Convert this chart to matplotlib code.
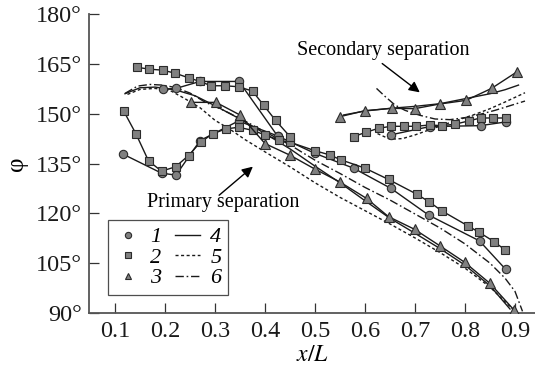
import matplotlib
matplotlib.use("Agg")
import matplotlib.pyplot as plt
from matplotlib.lines import Line2D

# experiment 1 (circles)
s1_x = [0.115, 0.193, 0.222, 0.270, 0.347, 0.425, 0.499, 0.577, 0.652, 0.727, 0.829, 0.881]
s1_y = [137.9, 132.1, 131.5, 141.9, 147.8, 143.3, 138.1, 133.6, 127.5, 119.5, 111.7, 103.2]
s1_up_x = [0.195, 0.222, 0.270, 0.348, 0.425]
s1_up_y = [157.3, 157.6, 159.7, 159.7, 143.3]
s1_sec_x = [0.651, 0.729, 0.831, 0.881]
s1_sec_y = [143.6, 146.1, 146.4, 147.5]

# experiment 2 (squares)
s2_x = [0.117, 0.142, 0.167, 0.193, 0.221, 0.247, 0.271, 0.295, 0.321, 0.347, 0.375,
        0.400, 0.427, 0.450, 0.499, 0.529, 0.552, 0.600, 0.647, 0.703, 0.728, 0.753,
        0.805, 0.827, 0.858, 0.880]
s2_y = [150.9, 143.9, 135.8, 132.7, 134.0, 137.4, 141.4, 143.9, 145.4, 145.9, 145.0,
        143.6, 142.1, 141.4, 138.9, 137.6, 136.1, 133.6, 130.2, 125.8, 123.5, 120.8,
        116.3, 114.4, 111.5, 109.0]
s2_up_x = [0.143, 0.168, 0.195, 0.220, 0.247, 0.270, 0.292, 0.320, 0.347, 0.375, 0.397, 0.421, 0.450]
s2_up_y = [164.0, 163.4, 163.1, 162.2, 160.8, 159.7, 158.4, 158.4, 158.1, 156.8, 152.6, 148.0, 143.1]
s2_sec_x = [0.577, 0.602, 0.627, 0.652, 0.677, 0.702, 0.729, 0.753, 0.779, 0.807, 0.831, 0.855, 0.881]
s2_sec_y = [143.1, 144.4, 145.6, 146.2, 146.2, 146.2, 146.6, 146.4, 146.8, 147.8, 148.7, 148.7, 148.7]

# experiment 3 (triangles)
s3_x = [0.251, 0.302, 0.350, 0.400, 0.450, 0.500, 0.549, 0.603, 0.647, 0.699, 0.750, 0.799, 0.850, 0.898]
s3_y = [153.4, 153.4, 149.6, 141.0, 137.5, 133.3, 129.5, 124.5, 119.0, 115.2, 110.2, 105.3, 98.9, 90.9]
s3_sec_x = [0.550, 0.600, 0.653, 0.699, 0.749, 0.802, 0.853, 0.903]
s3_sec_y = [149.1, 150.9, 151.6, 151.5, 152.9, 154.0, 157.6, 162.5]

# calculation 4 (solid)
l4_x = [0.12, 0.15, 0.18, 0.22, 0.26, 0.30, 0.35, 0.40, 0.45, 0.50, 0.55, 0.60,
        0.65, 0.70, 0.75, 0.80, 0.85, 0.89]
l4_y = [156.0, 157.8, 158.0, 157.2, 155.4, 152.4, 148.4, 144.0, 139.4, 134.2, 129.2, 123.8,
        118.5, 114.0, 109.4, 104.4, 98.2, 91.2]
l4_sec_x = [0.557, 0.60, 0.65, 0.70, 0.75, 0.80, 0.85, 0.88, 0.907]
l4_sec_y = [149.6, 150.8, 151.6, 152.2, 153.0, 154.5, 156.0, 157.2, 158.6]

# calculation 5 (dotted)
l5_x = [0.125, 0.15, 0.18, 0.21, 0.24, 0.27, 0.30, 0.33, 0.36, 0.40, 0.45, 0.50,
        0.55, 0.60, 0.65, 0.70, 0.75, 0.80, 0.85, 0.90]
l5_y = [155.8, 157.3, 157.6, 157.0, 154.5, 151.8, 148.0, 145.3, 142.2, 138.5, 134.0, 129.2,
        124.8, 120.8, 116.8, 112.6, 108.2, 103.5, 97.8, 90.5]
l5_sec_x = [0.625, 0.65, 0.675, 0.70, 0.73, 0.76, 0.79, 0.82, 0.85, 0.88, 0.92]
l5_sec_y = [144.0, 142.3, 142.5, 143.6, 145.2, 146.8, 148.3, 149.8, 151.5, 153.5, 156.3]

# calculation 6 (dash-dot)
l6_x = [0.12, 0.145, 0.17, 0.195, 0.22, 0.25, 0.28, 0.32, 0.36, 0.40, 0.45, 0.50,
        0.55, 0.60, 0.65, 0.70, 0.75, 0.80, 0.85, 0.88, 0.90, 0.915]
l6_y = [156.1, 158.3, 158.8, 158.6, 157.9, 156.2, 153.5, 150.8, 147.8, 144.5, 140.6, 136.0,
        132.0, 127.8, 124.0, 119.8, 115.6, 110.8, 105.0, 100.5, 96.5, 90.5]
l6_sec_x = [0.623, 0.64, 0.66, 0.68, 0.71, 0.74, 0.77, 0.80, 0.83, 0.86, 0.89, 0.92]
l6_sec_y = [157.6, 155.2, 152.6, 151.0, 149.5, 148.4, 148.2, 148.8, 149.8, 151.0, 152.4, 153.8]

x_ticks = [0.1, 0.2, 0.3, 0.4, 0.5, 0.6, 0.7, 0.8, 0.9]
y_ticks = [90, 105, 120, 135, 150, 165, 180]

LINE_C = "#1a1a1a"
FILL_C = "#808080"
EDGE_C = "#2b2b2b"
DOTTED = (0, (2.2, 1.8))
DASHDOT = (0, (6, 2, 1.2, 2))


def plot_markers(ax, x, y, marker, ms):
    ax.plot(x, y, color=LINE_C, lw=1.0, marker=marker, ms=ms,
            mfc=FILL_C, mec=EDGE_C, mew=0.8, zorder=3)


def main():
    plt.rcParams["font.family"] = ["Liberation Serif", "DejaVu Serif"]
    plt.rcParams["mathtext.fontset"] = "stix"

    fig = plt.figure(figsize=(5.35, 3.70), dpi=100)
    ax = fig.add_axes([89 / 535, 1 - 313 / 370, 1 - 89 / 535, (313 - 14) / 370])

    # calculated curves
    for xs, ys in [(l4_x, l4_y), (l4_sec_x, l4_sec_y)]:
        ax.plot(xs, ys, color=LINE_C, lw=1.0, ls="-", zorder=2)
    for xs, ys in [(l5_x, l5_y), (l5_sec_x, l5_sec_y)]:
        ax.plot(xs, ys, color=LINE_C, lw=1.0, ls=DOTTED, zorder=2)
    for xs, ys in [(l6_x, l6_y), (l6_sec_x, l6_sec_y)]:
        ax.plot(xs, ys, color=LINE_C, lw=1.0, ls=DASHDOT, zorder=2)

    # experimental data
    for xs, ys in [(s1_x, s1_y), (s1_up_x, s1_up_y), (s1_sec_x, s1_sec_y)]:
        plot_markers(ax, xs, ys, "o", 6.0)
    for xs, ys in [(s2_x, s2_y), (s2_up_x, s2_up_y), (s2_sec_x, s2_sec_y)]:
        plot_markers(ax, xs, ys, "s", 5.8)
    for xs, ys in [(s3_x, s3_y), (s3_sec_x, s3_sec_y)]:
        plot_markers(ax, xs, ys, "^", 6.5)

    ax.set_xlim(0.048, 0.94)
    ax.set_ylim(90, 180)
    ax.set_xticks(x_ticks)
    ax.set_xticklabels([f"{t:.1f}" for t in x_ticks])
    ax.set_yticks(y_ticks)
    ax.set_yticklabels([f"{t}°" for t in y_ticks])
    ax.tick_params(direction="in", length=7.5, width=0.9, colors="#333333",
                   labelcolor="#1a1a1a", labelsize=17.5, pad=5)
    ax.tick_params(axis="x", pad=6)
    for side in ["top", "right"]:
        ax.spines[side].set_visible(False)
    for side in ["left", "bottom"]:
        ax.spines[side].set_color("#555555")
        ax.spines[side].set_linewidth(1.3)
    ax.patch.set_alpha(0)

    ax.set_xlabel("$x/L$", fontsize=17, labelpad=2)
    ax.set_ylabel("φ", fontsize=18, labelpad=6)

    # annotations
    ax.text(0.636, 167.7, "Secondary separation", fontsize=14.5, ha="center", va="baseline")
    ax.annotate("", xy=(0.714, 155.9), xytext=(0.63, 165.6),
                arrowprops=dict(arrowstyle="-|>", color="k", lw=1.0, mutation_scale=16))
    ax.text(0.164, 121.9, "Primary separation", fontsize=14.5, ha="left", va="baseline")
    ax.annotate("", xy=(0.38, 134.6), xytext=(0.304, 124.9),
                arrowprops=dict(arrowstyle="-|>", color="k", lw=1.0, mutation_scale=16))

    # legend: markers 1-3 in first column, lines 4-6 in second
    handles = [
        Line2D([], [], ls="none", marker="o", ms=4.5, mfc=FILL_C, mec=EDGE_C, mew=0.8),
        Line2D([], [], ls="none", marker="s", ms=4.5, mfc=FILL_C, mec=EDGE_C, mew=0.8),
        Line2D([], [], ls="none", marker="^", ms=5, mfc=FILL_C, mec=EDGE_C, mew=0.8),
        Line2D([], [], color=LINE_C, lw=1.0, ls="-"),
        Line2D([], [], color=LINE_C, lw=1.0, ls=DOTTED),
        Line2D([], [], color=LINE_C, lw=1.0, ls=DASHDOT),
    ]
    labels = ["1", "2", "3", "4", "5", "6"]
    leg = ax.legend(handles, labels, ncol=2, loc="lower left",
                    bbox_to_anchor=(0.043, 0.06), borderaxespad=0,
                    prop={"size": 16, "style": "italic"}, frameon=True, fancybox=False,
                    edgecolor="#222222", handlelength=1.15, handletextpad=0.45,
                    columnspacing=0.6, labelspacing=0.0, borderpad=0.3)
    leg.get_frame().set_linewidth(0.9)

    fig.savefig("out.png", dpi=100)


if __name__ == "__main__":
    main()
